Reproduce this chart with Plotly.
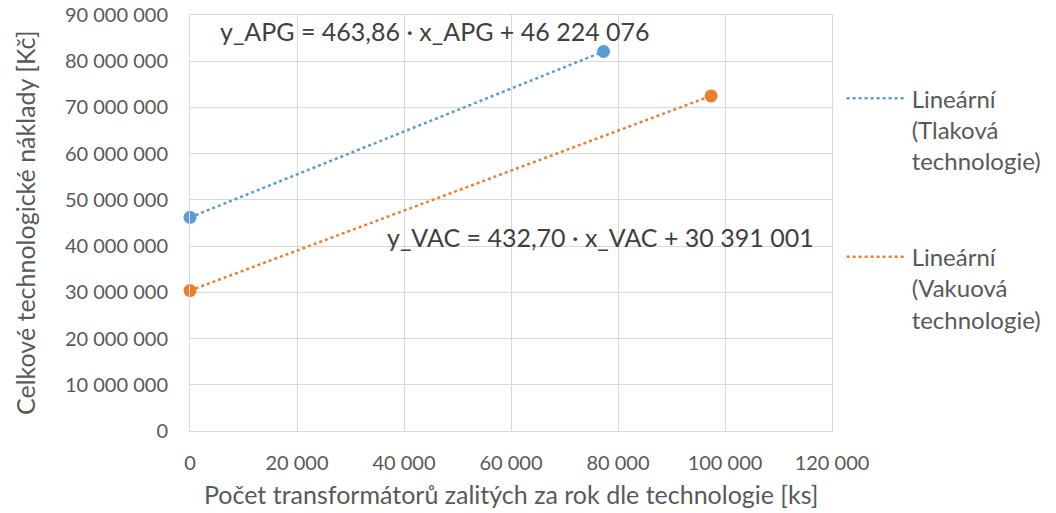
import plotly.graph_objects as go

# Data
x_apg = [0, 77300]
y_apg = [46224076, 82100000]
x_vac = [0, 97400]
y_vac = [30391001, 72500000]

names = ["Lineární<br>(Tlaková<br>technologie)", "Lineární<br>(Vakuová<br>technologie)"]
eq_apg = "y_APG = 463,86 · x_APG + 46 224 076"
eq_vac = "y_VAC = 432,70 · x_VAC + 30 391 001"
x_title = "Počet transformátorů zalitých za rok dle technologie [ks]"
y_title = "Celkové technologické náklady [Kč]"

x_ticks = [0, 20000, 40000, 60000, 80000, 100000, 120000]
y_ticks = [0, 10000000, 20000000, 30000000, 40000000, 50000000, 60000000, 70000000, 80000000, 90000000]

BLUE = "#5B9BD5"
ORANGE = "#ED7D31"
GRID = "#D9D9D9"
TXT = "#595959"
FONT = "Lato, Open Sans, sans-serif"

fig = go.Figure()
fig.add_trace(go.Scatter(x=x_apg, y=y_apg, mode="lines", name=names[0], legendgroup="a",
                         line=dict(color=BLUE, width=2.5, dash="dot")))
fig.add_trace(go.Scatter(x=x_vac, y=y_vac, mode="lines", name=names[1], legendgroup="b",
                         line=dict(color=ORANGE, width=2.5, dash="dot")))
fig.add_trace(go.Scatter(x=x_apg, y=y_apg, mode="markers", showlegend=False, cliponaxis=False,
                         marker=dict(color=BLUE, size=13)))
fig.add_trace(go.Scatter(x=x_vac, y=y_vac, mode="markers", showlegend=False, cliponaxis=False,
                         marker=dict(color=ORANGE, size=13)))

fig.add_annotation(x=45800, y=86600000, text=eq_apg, showarrow=False, xref="x", yref="y",
                   font=dict(size=25, color="#404040", family=FONT))
fig.add_annotation(x=76700, y=42000000, text=eq_vac, showarrow=False, xref="x", yref="y",
                   font=dict(size=25, color="#404040", family=FONT))
fig.add_annotation(x=0.5, y=-0.151, xref="paper", yref="paper", text=x_title, showarrow=False,
                   xanchor="center", yanchor="middle", font=dict(size=25, color=TXT, family=FONT))
fig.add_annotation(x=-0.257, y=0.5, xref="paper", yref="paper", text=y_title, showarrow=False,
                   textangle=-90, xanchor="center", yanchor="middle",
                   font=dict(size=25, color=TXT, family=FONT))

fig.update_layout(
    width=1056, height=513,
    margin=dict(l=190, r=224, t=15, b=82, autoexpand=False),
    paper_bgcolor="white", plot_bgcolor="white",
    separators=", ",
    font=dict(family=FONT, color=TXT, size=20),
    legend=dict(x=1.015, y=0.853, xanchor="left", yanchor="top", valign="top",
                font=dict(size=24, color=TXT, family=FONT),
                tracegroupgap=62, itemwidth=60),
    showlegend=True,
    xaxis=dict(range=[0, 120000], tickvals=x_ticks, tickformat=",d", automargin=False,
               showgrid=True, gridcolor=GRID, gridwidth=1,
               zeroline=False, showline=True, linecolor=GRID, mirror=True,
               ticks="", ticklabelstandoff=14,
               tickfont=dict(size=20, color=TXT)),
    yaxis=dict(range=[0, 90000000], tickvals=y_ticks, tickformat=",d", automargin=False,
               showgrid=True, gridcolor=GRID, gridwidth=1,
               zeroline=False, showline=True, linecolor=GRID, mirror=True,
               ticks="", ticklabelstandoff=17,
               tickfont=dict(size=20, color=TXT)),
)

fig.write_html("out.html", config={"displayModeBar": False},
               post_script="document.body.style.margin='0';document.body.style.overflow='hidden';")
